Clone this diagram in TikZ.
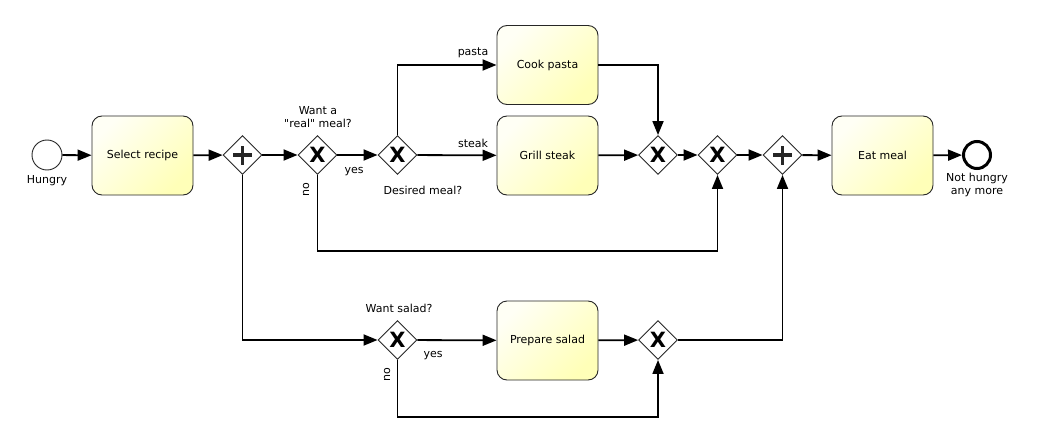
\documentclass[tikz,border=0pt]{standalone}
\usepackage{fontspec}
\newfontfamily\bpmn{DejaVu Sans}
\usetikzlibrary{arrows.meta,shapes.geometric}

\begin{document}
\begin{tikzpicture}[x=1pt, y=-1pt, font=\bpmn\fontsize{11}{13}\selectfont]
        % Styles
        \tikzstyle{tache}=[rectangle, rounded corners=10pt, draw=black!85, line width=0.9pt,
            minimum width=101pt, minimum height=79pt, inner sep=0pt,
            top color=yellow!4, bottom color=yellow!28, shading angle=45]
        \tikzstyle{porte}=[diamond, draw=black!85, line width=0.9pt, fill=white,
            minimum width=39pt, minimum height=39pt, inner sep=0pt]
        \tikzstyle{exclusif}=[porte, font=\bpmn\bfseries\fontsize{21}{21}\selectfont]
        \tikzstyle{parallele}=[porte, path picture={
            \draw[line width=3.2pt] ([xshift=-9.5pt]path picture bounding box.center) -- ([xshift=9.5pt]path picture bounding box.center);
            \draw[line width=3.2pt] ([yshift=-9.5pt]path picture bounding box.center) -- ([yshift=9.5pt]path picture bounding box.center);}]
        \tikzstyle{debut}=[circle, draw=black!85, line width=0.9pt, fill=white, minimum size=30pt, inner sep=0pt]
        \tikzstyle{fin}=[circle, draw=black, line width=3pt, fill=white, minimum size=27pt, inner sep=0pt]
        \tikzstyle{flux}=[line width=1.8pt, -{Triangle[length=14pt,width=11pt]}]
        \tikzstyle{etiq}=[inner sep=0pt, align=center]

        \useasboundingbox (0,0) rectangle (1038,441);

        % Noeuds
        \node[debut] (hungry) at (47,155) {};
        \node[tache] (select) at (142.5,155.5) {Select recipe};
        \node[parallele] (split) at (242.5,155) {};
        \node[exclusif] (real) at (317.5,155) {X};
        \node[exclusif] (desired) at (397.5,155) {X};
        \node[tache] (pasta) at (547.5,65) {Cook pasta};
        \node[tache] (steak) at (547.5,155.5) {Grill steak};
        \node[exclusif] (joinMeal) at (658,155) {X};
        \node[exclusif] (joinReal) at (717.5,155) {X};
        \node[parallele] (joinAll) at (782.5,155) {};
        \node[tache] (eat) at (882.5,155.5) {Eat meal};
        \node[fin] (stop) at (977,155) {};
        \node[exclusif] (salad) at (397.5,340) {X};
        \node[tache] (prepare) at (547.5,340.5) {Prepare salad};
        \node[exclusif] (joinSalad) at (658,340) {X};
        \coordinate (basReal) at (317.5,251);
        \coordinate (basSalad) at (397.5,417);

        % Textes
        \node[etiq] at (47,181) {Hungry};
        \node[etiq] at (977,185) {Not hungry\\any more};
        \node[etiq] at (318,117) {Want a\\"real" meal?};
        \node[etiq] at (423,190) {Desired meal?};
        \node[etiq] at (399,308) {Want salad?};
        \node[etiq] at (354,172) {yes};
        \node[etiq, rotate=90] at (306,190) {no};
        \node[etiq] at (473,53) {pasta};
        \node[etiq] at (473,143) {steak};
        \node[etiq] at (433,356) {yes};
        \node[etiq, rotate=90] at (387,375) {no};

        % Flux
        \draw[flux] (hungry) -- (select);
        \draw[flux] (select) -- (split);
        \draw[flux] (split) -- (real);
        \draw[flux] (real) -- (desired);
        \draw[flux] (desired) -- (steak);
        \draw[flux] (desired.north) |- (pasta.west);
        \draw[flux] (pasta.east) -| (joinMeal.north);
        \draw[flux] (steak) -- (joinMeal);
        \draw[flux] (joinMeal) -- (joinReal);
        \draw[flux] (joinReal) -- (joinAll);
        \draw[flux] (joinAll) -- (eat);
        \draw[flux] (eat) -- (stop);
        \draw[flux] (real.south) -- (basReal) -| (joinReal.south);
        \draw[flux] (split.south) |- (salad.west);
        \draw[flux] (salad) -- (prepare);
        \draw[flux] (prepare) -- (joinSalad);
        \draw[flux] (salad.south) -- (basSalad) -| (joinSalad.south);
        \draw[flux] (joinSalad.east) -| (joinAll.south);
    \end{tikzpicture}
\end{document}
